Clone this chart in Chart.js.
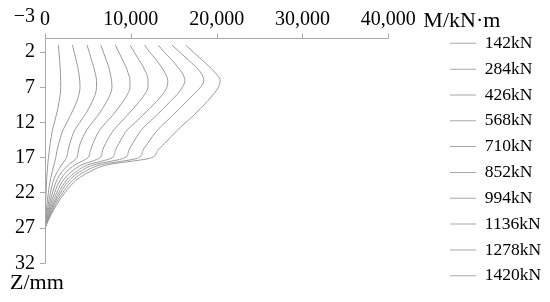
<!DOCTYPE html>
<html><head><meta charset="utf-8">
<script src="https://cdn.jsdelivr.net/npm/chart.js@4/dist/chart.umd.min.js"></script>
<style>html,body{margin:0;padding:0;background:#fff}</style>
</head><body>
<canvas id="c" width="550" height="302"></canvas>
<script>
// ---- data (depth Z in m, moment M in kN·m) ----
const depths = [1,2,3,4,5,6,7,8,9,10,11,12,13,14,15,16,17,18,19,20,21,22,23,24,25,26,27];
const loads = ['142kN','284kN','426kN','568kN','710kN','852kN','994kN','1136kN','1278kN','1420kN'];
const m142  = [1550,1630,1700,1760,1800,1830,1830,1780,1650,1500,1300,1100,880,730,600,500,400,320,260,200,160,120,90,60,40,20,0];
const m284  = [3200,3400,3600,3800,3950,4050,4080,3950,3700,3350,2950,2550,2120,1830,1600,1400,1250,1050,850,650,500,390,290,200,120,60,0];
const m426  = [4900,5150,5400,5650,5850,6000,6000,5850,5500,5100,4600,4050,3500,3150,2880,2680,2500,1950,1420,1050,810,630,460,330,200,90,0];
const m568  = [6500,6800,7100,7400,7600,7750,7800,7600,7200,6700,6150,5500,4900,4450,4100,3880,3700,2750,1960,1450,1120,870,640,450,280,130,0];
const m710  = [8200,8600,9000,9400,9700,9900,9900,9600,9100,8500,7850,7100,6400,5950,5580,5280,5000,3500,2500,1850,1420,1110,810,570,350,170,0];
const m852  = [9900,10400,10900,11400,11800,12000,12000,11600,11000,10300,9550,8800,8050,7500,7050,6700,6400,4300,3050,2250,1730,1350,990,700,430,200,0];
const m994  = [11600,12200,12900,13500,14000,14300,14200,13700,13000,12200,11350,10500,9600,9050,8580,8180,7800,5000,3600,2650,2040,1590,1170,820,500,240,0];
const m1136 = [13200,13900,14700,15400,16000,16300,16000,15400,14600,13800,12950,12100,11250,10700,10200,9750,9300,5700,4050,3000,2310,1800,1320,930,570,270,0];
const m1278 = [14800,15700,16600,17500,18200,18500,18100,17300,16500,15700,14850,14000,13150,12500,11950,11400,10900,6500,4600,3400,2620,2040,1500,1050,650,310,0];
const m1420 = [16400,17300,18200,19100,19900,20400,20200,19600,18900,18100,17300,16400,15500,14700,13900,13100,12400,7300,5200,3850,2950,2300,1700,1200,750,350,0];
const xTicks = [0,10000,20000,30000,40000];
const yTicks = [-3,2,7,12,17,22,27,32];
const xTitle = 'M/kN·m';
const yTitle = 'Z/mm';

const series = [m142,m284,m426,m568,m710,m852,m994,m1136,m1278,m1420];
const FONT = "'Liberation Serif','Times New Roman',serif";
const LINE = '#9a9a9a';
const AXIS = '#a8a8a8';

const datasets = series.map((arr, i) => ({
  label: loads[i],
  data: arr.map((v, k) => ({x: v, y: depths[k]})),
  borderColor: LINE,
  backgroundColor: LINE,
  borderWidth: 1,
  pointRadius: 0,
  cubicInterpolationMode: 'monotone',
  fill: false
}));

const axisPlugin = {
  id: 'axisPlugin',
  afterDraw(chart) {
    const {ctx} = chart;
    const xs = chart.scales.x, ys = chart.scales.y;
    const x0 = Math.round(xs.getPixelForValue(0)) + 0.5;
    const x1 = Math.round(xs.getPixelForValue(xTicks[xTicks.length-1])) + 0.5;
    const y0 = Math.round(ys.getPixelForValue(0)) + 0.5;
    const y1 = Math.round(ys.getPixelForValue(yTicks[yTicks.length-1])) + 0.5;
    ctx.save();
    ctx.strokeStyle = AXIS; ctx.lineWidth = 1;
    ctx.beginPath();
    ctx.moveTo(x0, y0); ctx.lineTo(x1, y0);
    ctx.moveTo(x0, y0); ctx.lineTo(x0, y1);
    xTicks.forEach(v => {
      const px = Math.round(xs.getPixelForValue(v)) + 0.5;
      ctx.moveTo(px, y0); ctx.lineTo(px, y0 - 5);
    });
    ctx.stroke();
    ctx.fillStyle = '#000';
    ctx.font = '22px ' + FONT;
    ctx.textAlign = 'left';
    ctx.textBaseline = 'alphabetic';
    ctx.fillText(xTitle, xs.right + 35, 27);
    ctx.fillText(yTitle, 10, ys.bottom + 26);
    ctx.restore();
  }
};

new Chart(document.getElementById('c'), {
  type: 'line',
  data: {datasets},
  plugins: [axisPlugin],
  options: {
    responsive: false,
    animation: false,
    devicePixelRatio: 1,
    indexAxis: 'y',
    layout: {padding: {top: 0, left: 0, right: -1.2, bottom: 9.15}},
    plugins: {
      tooltip: {enabled: false},
      legend: {
        position: 'right',
        align: 'end',
        maxWidth: 200,
        labels: {
          font: {family: FONT, size: 17.5},
          color: '#000',
          boxWidth: 26,
          boxHeight: 1,
          padding: 8.33,
          generateLabels: (chart) => chart.data.datasets.map((ds, i) => ({
            text: ds.label, fillStyle: '#a8a8a8', strokeStyle: 'rgba(0,0,0,0)',
            lineWidth: 0, hidden: false, datasetIndex: i, fontColor: '#000'
          }))
        }
      }
    },
    scales: {
      x: {
        type: 'linear', position: 'top', min: 0, max: 40000,
        afterBuildTicks: s => { s.ticks = xTicks.map(v => ({value: v})); },
        afterFit: s => { s.height = 16; },
        grid: {display: false, drawTicks: false},
        border: {display: false},
        ticks: {
          font: {family: FONT, size: 20}, color: '#000', padding: -9.5, mirror: true,
          autoSkip: false, maxRotation: 0,
          callback: v => Number(v).toLocaleString('en-US')
        }
      },
      xb: {
        type: 'linear', position: 'bottom', min: 0, max: 1,
        afterFit: s => { s.height = 29.55; },
        grid: {display: false, drawTicks: false}, border: {display: false},
        ticks: {display: false}
      },
      y: {
        type: 'linear', position: 'left', reverse: true, min: -3, max: 32,
        afterBuildTicks: s => { s.ticks = yTicks.map(v => ({value: v})); },
        afterFit: s => { s.width = 45; },
        grid: {
          display: true, drawOnChartArea: false, drawTicks: true, tickLength: 5,
          tickColor: c => (c.tick && c.tick.value < 0) ? 'rgba(0,0,0,0)' : AXIS
        },
        border: {display: false},
        ticks: {
          font: {family: FONT, size: 20}, color: '#000', padding: 5, autoSkip: false,
          callback: v => v < 0 ? '\u2212' + Math.abs(v) : String(v)
        }
      },
      yr: {
        type: 'linear', position: 'right', min: 0, max: 1,
        afterFit: s => { s.width = 53.4; },
        grid: {display: false, drawTicks: false}, border: {display: false},
        ticks: {display: false}
      }
    }
  }
});
</script>
</body></html>
